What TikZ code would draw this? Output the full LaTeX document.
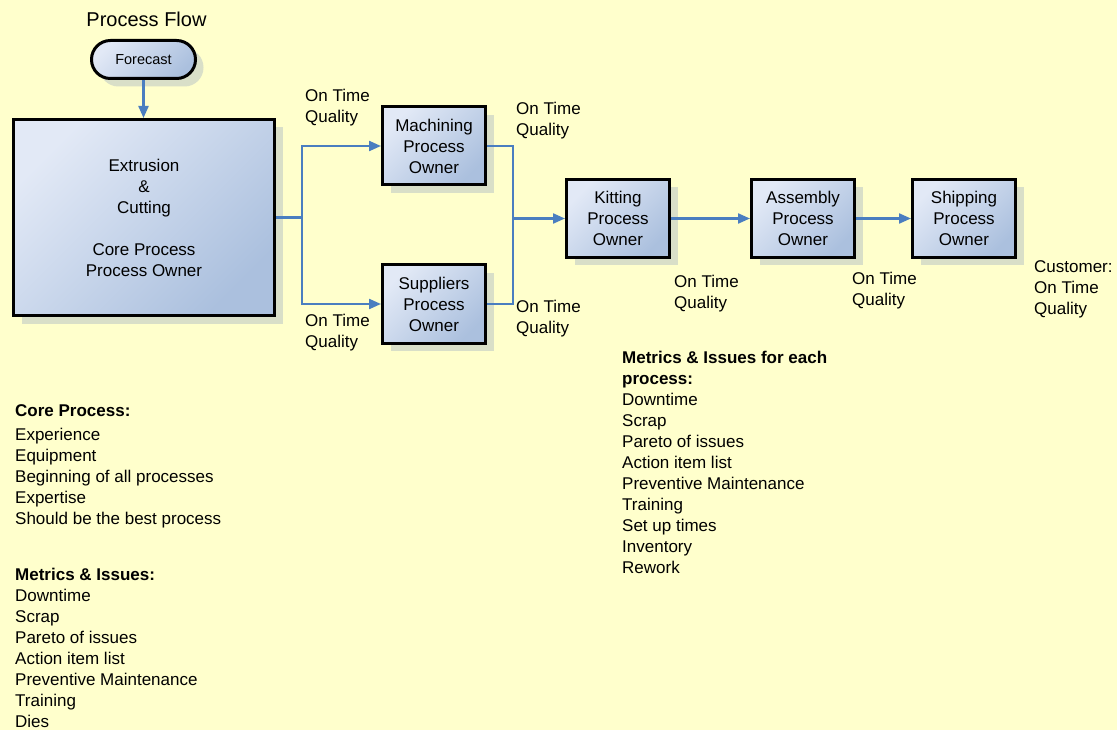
\documentclass[tikz,border=0pt]{standalone}
\usepackage{fontspec}
\setmainfont{Liberation Sans}
\usetikzlibrary{arrows.meta,shadows}
\definecolor{bgc}{HTML}{FFFFCC}
\definecolor{shadowc}{HTML}{D9DFC8}
\definecolor{boxlight}{HTML}{E2E9F6}
\definecolor{boxdark}{HTML}{ABC0DE}
\definecolor{arrowc}{HTML}{4A7EC0}
\begin{document}
\begin{tikzpicture}[x=1pt,y=-1pt,
  txt/.style={font=\fontsize{17}{21}\selectfont},
  pbox/.style={draw=black, line width=3pt, top color=boxlight, bottom color=boxdark, shading angle=45,
    drop shadow={shadow xshift=8pt, shadow yshift=-8pt, fill=shadowc, opacity=1},
    minimum width=103pt, minimum height=78pt, inner sep=0pt, align=center, txt},
  lbl/.style={anchor=north west, inner sep=0pt, align=left, txt},
  conn/.style={draw=arrowc, line width=2.2pt},
  arr/.style={conn, -{Triangle[length=12pt,width=10pt]}}]
\fill[bgc] (0,0) rectangle (1117,730);
\useasboundingbox (0,0) rectangle (1117,730);

\node (title) at (146.5,19) {\fontsize{20}{24}\selectfont Process Flow};

\node[pbox, minimum width=104pt, minimum height=38pt, rounded corners=18.9pt, font=\fontsize{14.5}{17}\selectfont] (fc) at (143.5,59.5) {Forecast};
\node[pbox, minimum width=261pt, minimum height=196pt] (core) at (144,217.5) {Extrusion\\\&\\Cutting\\[21pt]Core Process\\Process Owner};
\node[pbox] (mach) at (434,146) {Machining\\Process\\Owner};
\node[pbox] (supp) at (434,304) {Suppliers\\Process\\Owner};
\node[pbox] (kit) at (618,218.5) {Kitting\\Process\\Owner};
\node[pbox] (asm) at (803,218.5) {Assembly\\Process\\Owner};
\node[pbox] (ship) at (964,218.5) {Shipping\\Process\\Owner};

\coordinate (br) at (302,217.5);
\coordinate (mg) at (513,218.5);
\draw[arr] (fc.south) -- (fc.south |- core.north);
\draw[conn] (core.east) -- (br);
\draw[arr] (br) |- (mach.west);
\draw[arr] (br) |- (supp.west);
\draw[conn] (mach.east) -| (mg);
\draw[conn] (supp.east) -| (mg);
\draw[arr] (mg) -- (kit.west);
\draw[arr] (kit.east) -- (asm.west);
\draw[arr] (asm.east) -- (ship.west);

\node[lbl] (l1) at (305,89) {On Time\\Quality};
\node[lbl] (l2) at (516,102) {On Time\\Quality};
\node[lbl] (l3) at (305,314) {On Time\\Quality};
\node[lbl] (l4) at (516,300) {On Time\\Quality};
\node[lbl] (l5) at (674,275) {On Time\\Quality};
\node[lbl] (l6) at (852,272) {On Time\\Quality};
\node[lbl] (cust) at (1034,260) {Customer:\\On Time\\Quality};

\node[lbl] (mright) at (622,351) {\textbf{Metrics \& Issues for each}\\\textbf{process:}\\Downtime\\Scrap\\Pareto of issues\\Action item list\\Preventive Maintenance\\Training\\Set up times\\Inventory\\Rework};
\node[lbl] (coretxt) at (15,404) {\textbf{Core Process:}\\[3pt]Experience\\Equipment\\Beginning of all processes\\Expertise\\Should be the best process};
\node[lbl] (mleft) at (15,568) {\textbf{Metrics \& Issues:}\\Downtime\\Scrap\\Pareto of issues\\Action item list\\Preventive Maintenance\\Training\\Dies};
\end{tikzpicture}
\end{document}
